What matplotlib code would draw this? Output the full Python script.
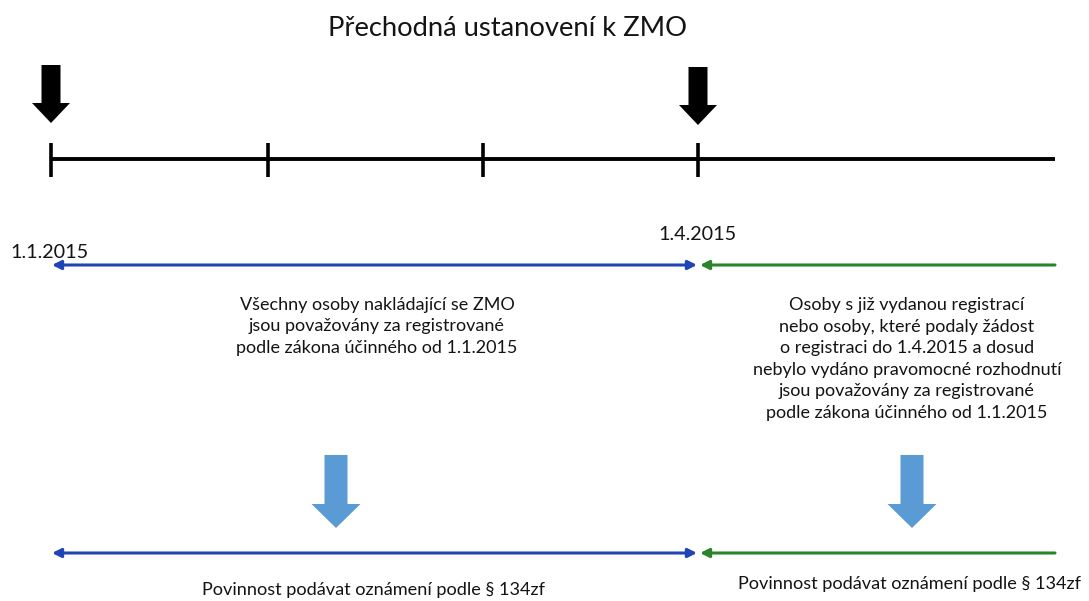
import matplotlib.pyplot as plt
from matplotlib.patches import FancyArrow

plt.rcParams['font.family'] = ['Lato', 'DejaVu Sans']

title = 'Přechodná ustanovení k ZMO'
date_labels = ['1.1.2015', '1.4.2015']
left_text = ['Všechny osoby nakládající se ZMO',
             'jsou považovány za registrované',
             'podle zákona účinného od 1.1.2015']
right_text = ['Osoby s již vydanou registrací',
              'nebo osoby, které podaly žádost',
              'o registraci do 1.4.2015 a dosud',
              'nebylo vydáno pravomocné rozhodnutí',
              'jsou považovány za registrované',
              'podle zákona účinného od 1.1.2015']
duty_text = 'Povinnost podávat oznámení podle § 134zf'

W, H = 1089, 601
fig = plt.figure(figsize=(W / 100, H / 100), dpi=100)
ax = fig.add_axes([0, 0, 1, 1])
ax.set_xlim(0, W)
ax.set_ylim(H, 0)
ax.axis('off')

blue = '#1f45b5'
green = '#2a852a'
light_blue = '#5b9bd5'
ink = '#141414'

# title
ax.text(507, 29, title, fontsize=19.7, ha='center', va='center', color=ink)

# timeline with ticks
x_start, x_end, y_line = 51, 1055, 159
ax.plot([x_start, x_end], [y_line, y_line], color='black', lw=2.8, solid_capstyle='butt')
for xt in [51, 268, 483, 698]:
    ax.plot([xt, xt], [143, 177], color='black', lw=2.6, solid_capstyle='butt')

# big black arrows
for xa, ya in [(51, 65), (698, 67)]:
    ax.add_patch(FancyArrow(xa, ya, 0, 58, width=19, head_width=38, head_length=20,
                            length_includes_head=True, color='black', lw=0))

# date labels
ax.text(49, 252, date_labels[0], fontsize=14.2, ha='center', va='center', color=ink)
ax.text(697, 234, date_labels[1], fontsize=14.2, ha='center', va='center', color=ink)


def period_arrows(y):
    ax.annotate('', xy=(52, y), xytext=(697, y),
                arrowprops=dict(arrowstyle='<|-|>', color=blue, lw=2.2,
                                mutation_scale=13, shrinkA=0, shrinkB=0))
    ax.annotate('', xy=(700, y), xytext=(1055, y),
                arrowprops=dict(arrowstyle='-|>', color=green, lw=2.2,
                                mutation_scale=13, shrinkA=0, shrinkB=0))


period_arrows(265)
period_arrows(553)

# text blocks
for i, line in enumerate(left_text):
    ax.text(377, 305 + i * 21.5, line, fontsize=13, ha='center', va='center', color=ink)
for i, line in enumerate(right_text):
    ax.text(907, 305 + i * 21.6, line, fontsize=13, ha='center', va='center', color=ink)

# light blue arrows
for xa in [336, 912]:
    ax.add_patch(FancyArrow(xa, 455, 0, 73, width=23, head_width=49, head_length=24,
                            length_includes_head=True, color=light_blue, lw=0))

ax.text(374, 590, duty_text, fontsize=13.1, ha='center', va='center', color=ink)
ax.text(910, 584, duty_text, fontsize=13.1, ha='center', va='center', color=ink)

fig.savefig('out.png', dpi=100, facecolor='white')
